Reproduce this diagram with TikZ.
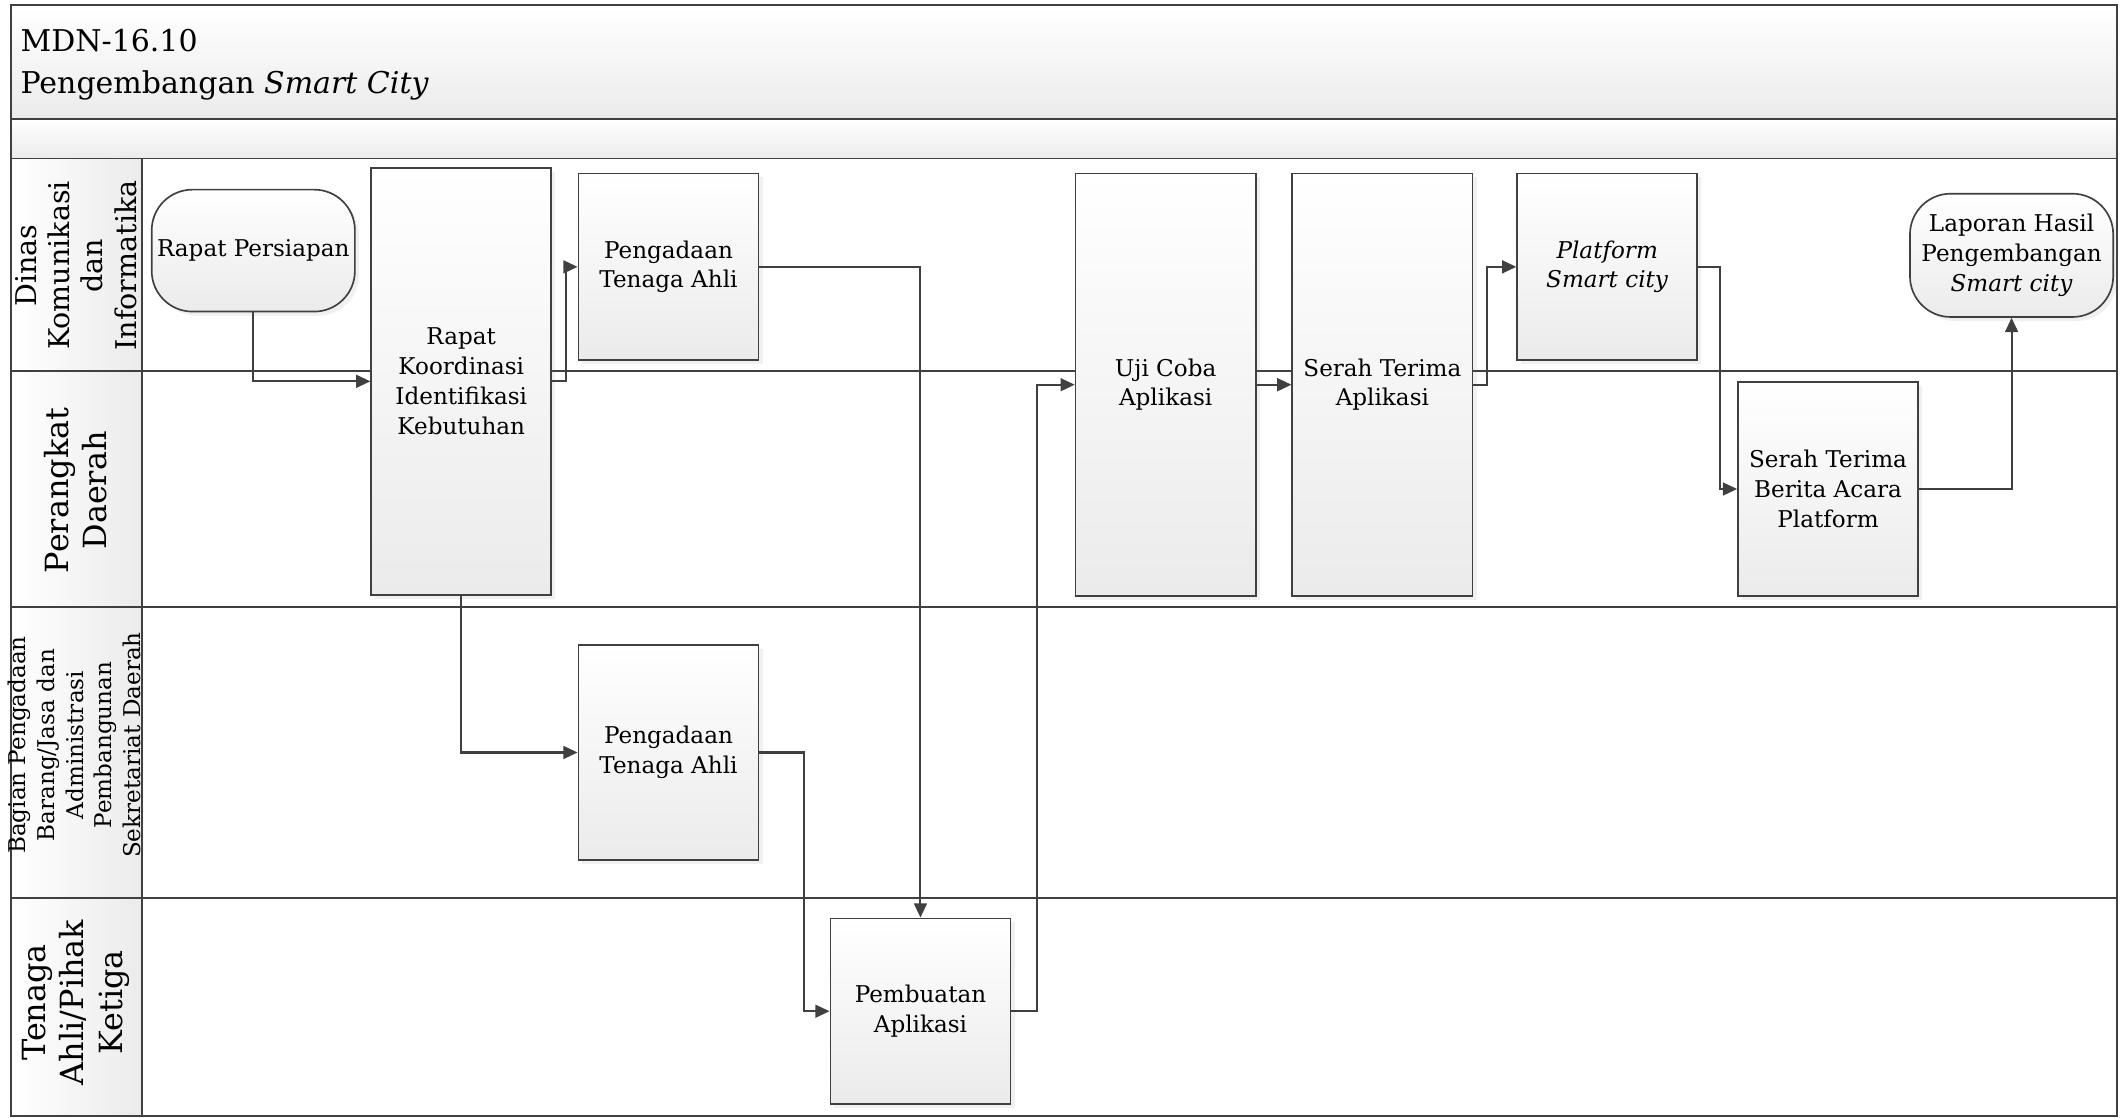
\documentclass[tikz,border=0pt]{standalone}
\usepackage{fontspec}
\setmainfont{DejaVu Serif}
\usepackage{xcolor}
\usepackage{tikz}
\usetikzlibrary{arrows.meta,positioning,shadows}
\definecolor{lineGray}{HTML}{404040}
\definecolor{fillGray}{HTML}{EBEBEB}

\begin{document}
\begin{tikzpicture}[x=0.2mm,y=-0.2mm,>={Triangle[length=2.1mm,width=1.9mm]},
  proc/.style={draw=lineGray,line width=0.7pt,top color=white,bottom color=fillGray,
    minimum width=26.6mm,align=center,inner sep=2pt,font=\fontsize{9.7}{12.5}\selectfont,
    drop shadow={shadow xshift=0.6mm,shadow yshift=-0.6mm,opacity=0.12}},
  term/.style={proc,rounded corners=6mm,minimum width=30mm,minimum height=18mm},
  flow/.style={->,draw=lineGray,line width=0.85pt},
  band/.style={draw=lineGray,line width=0.8pt},
  lanelbl/.style={rotate=90,align=center}]
\useasboundingbox (0,0) rectangle (1568,825);
% frame of the swimlanes
\shade[top color=white,bottom color=fillGray] (8,4) rectangle (1563,88);
\shade[top color=white,bottom color=fillGray] (8,88) rectangle (1563,117);
\shade[left color=white,right color=fillGray] (8,117) rectangle (105,824);
\draw[band] (8,4) rectangle (1563,824);
\draw[band] (8,88) -- (1563,88);
\draw[band] (8,117) -- (1563,117);
\draw[band] (105,117) -- (105,824);
\foreach \y in {274,448,663}
  \draw[band] (8,\y) -- (1563,\y);
\node[anchor=west,align=left,font=\fontsize{12.6}{17.6}\selectfont] (title) at (9,48)
  {MDN-16.10\\Pengembangan \textit{Smart City}};
% lane labels
\node[lanelbl,font=\fontsize{12}{14}\selectfont] (dinas) at (56,196) {Dinas\\Komunikasi\\dan\\Informatika};
\node[lanelbl,font=\fontsize{13.4}{16}\selectfont] (perangkat) at (56,362) {Perangkat\\Daerah};
\node[lanelbl,font=\fontsize{9.7}{12}\selectfont] (bagian) at (55,550)
  {Bagian Pengadaan\\Barang/Jasa dan\\Administrasi\\Pembangunan\\Sekretariat Daerah};
\node[lanelbl,font=\fontsize{13.4}{16}\selectfont] (tenaga) at (56,740) {Tenaga\\Ahli/Pihak\\Ketiga};
% steps
\node[term] (persiapan) at (187,185) {Rapat Persiapan};
\node[proc,minimum height=63mm] (koordinasi) at (340.5,281.5) {Rapat\\Koordinasi\\Identifikasi\\Kebutuhan};
\node[proc,minimum height=27.6mm] (pengadaan1) at (493.5,197) {Pengadaan\\Tenaga Ahli};
\node[proc,minimum height=31.8mm] (pengadaan2) at (493.5,555.5) {Pengadaan\\Tenaga Ahli};
\node[proc,minimum height=27.4mm] (pembuatan) at (679.5,746.5) {Pembuatan\\Aplikasi};
\node[proc,minimum height=62.4mm] (ujicoba) at (860.5,284) {Uji Coba\\Aplikasi};
\node[proc,minimum height=62.4mm] (serahapp) at (1020.5,284) {Serah Terima\\Aplikasi};
\node[proc,minimum height=27.6mm] (platform) at (1186.5,197) {\textit{Platform}\\\textit{Smart city}};
\node[proc,minimum height=31.6mm] (berita) at (1349.5,361) {Serah Terima\\Berita Acara\\Platform};
\node[term,minimum height=18.2mm] (laporan) at (1485,188.5) {Laporan Hasil\\Pengembangan\\\textit{Smart city}};
% connectors
\draw[flow] (persiapan.south) |- (koordinasi.west);
\draw[flow] (koordinasi.east) -- ++(10,0) |- (pengadaan1.west);
\draw[flow] (koordinasi.south) |- (pengadaan2.west);
\draw[flow] (pengadaan1.east) -| (pembuatan.north);
\draw[flow] (pengadaan2.east) -- ++(33,0) |- (pembuatan.west);
\draw[flow] (pembuatan.east) -- ++(19,0) |- (ujicoba.west);
\draw[flow] (ujicoba.east) -- (serahapp.west);
\draw[flow] (serahapp.east) -- ++(10,0) |- (platform.west);
\draw[flow] (platform.east) -- ++(16,0) |- (berita.west);
\draw[flow] (berita.east) -| (laporan.south);
\end{tikzpicture}
\end{document}
